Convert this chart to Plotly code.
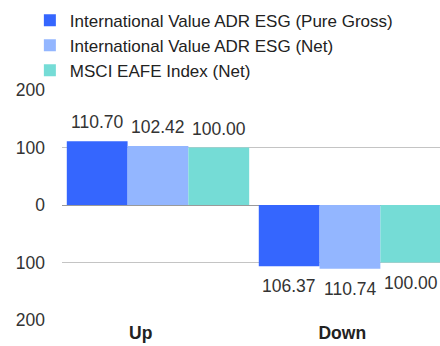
import plotly.graph_objects as go

# Up / down capture ratios
categories = ["Up", "Down"]
series_names = [
    "International Value ADR ESG (Pure Gross)",
    "International Value ADR ESG (Net)",
    "MSCI EAFE Index (Net)",
]
up_values = [110.70, 102.42, 100.00]
down_values = [106.37, 110.74, 100.00]
colors = ["#3566fe", "#93b6ff", "#75dcd6"]

y_tickvals = [-200, -100, 0, 100, 200]
y_ticktext = ["200", "100", "0", "100", "200"]

FONT = "Liberation Sans, Arial, sans-serif"
BARGAP = 0.05
n = len(series_names)
cat_pos = list(range(len(categories)))

fig = go.Figure()
annotations = []
for i, name in enumerate(series_names):
    vals = [up_values[i], -down_values[i]]
    fig.add_trace(go.Bar(
        x=cat_pos, y=vals, name=name,
        marker=dict(color=colors[i], line=dict(width=0)),
    ))
    width = (1 - BARGAP) / n
    for j, v in enumerate(vals):
        annotations.append(dict(
            x=cat_pos[j] + (i - (n - 1) / 2) * width, y=v,
            xref="x", yref="y", text=f"{abs(v):.2f}", showarrow=False,
            yanchor="middle", yshift=19 if v > 0 else -20,
            font=dict(family=FONT, size=17.5, color="#333333"),
        ))

fig.update_layout(
    width=440, height=346,
    margin=dict(l=62, r=0, t=90, b=26),
    paper_bgcolor="white", plot_bgcolor="white",
    barmode="group", bargap=BARGAP, bargroupgap=0,
    font=dict(family=FONT, size=17.5, color="#333333"),
    annotations=annotations,
    legend=dict(
        x=-0.085, xanchor="left", y=1.38, yanchor="top",
        font=dict(family=FONT, size=17, color="#222222"),
        bgcolor="rgba(0,0,0,0)", tracegroupgap=0,
        itemclick=False,
    ),
)
fig.update_xaxes(
    range=[-0.5, 1.469], tickmode="array",
    tickvals=[-0.09, 0.96], ticktext=categories,
    tickfont=dict(family=FONT, size=17.5, color="#222222", weight="bold"),
    showgrid=False, zeroline=False, showline=False, ticks="",
)
fig.update_yaxes(
    range=[-200, 200], tickmode="array",
    tickvals=y_tickvals, ticktext=y_ticktext,
    tickfont=dict(family=FONT, size=17.5, color="#333333"),
    showgrid=True, gridcolor="#c4c4c4", gridwidth=1,
    zeroline=True, zerolinecolor="#9a9a9a", zerolinewidth=1,
    ticks="", ticklabelstandoff=16,
)

fig.write_html("out.html")
